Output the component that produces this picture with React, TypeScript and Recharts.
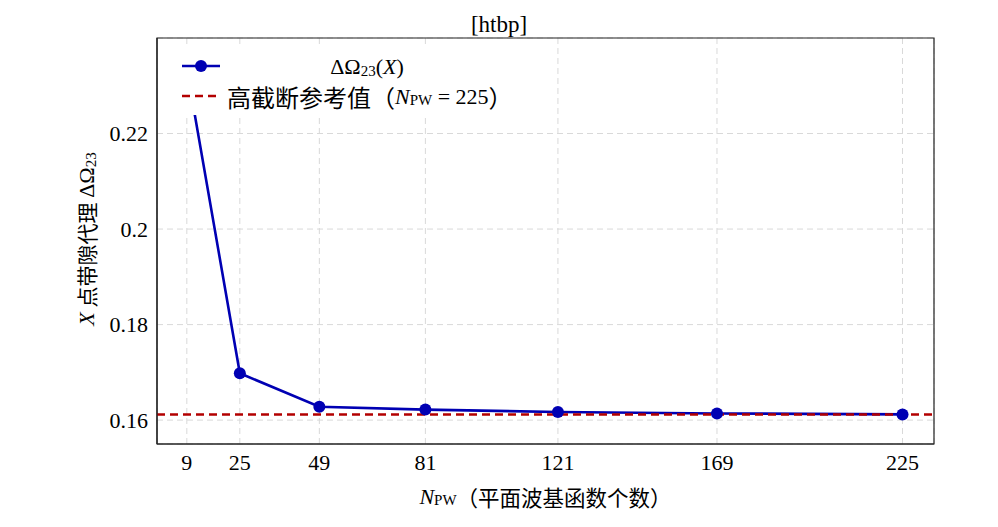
import {
  CartesianGrid,
  Legend,
  Line,
  LineChart,
  ReferenceArea,
  ReferenceLine,
  XAxis,
  YAxis,
} from 'recharts';

// plane-wave basis sizes and the X-point gap proxy
const basisCounts = [9, 25, 49, 81, 121, 169, 225];
const gapProxy = [0.2335, 0.1698, 0.1628, 0.1622, 0.1617, 0.1614, 0.1612];
const referenceGap = 0.1612;
const xTicks = [9, 25, 49, 81, 121, 169, 225];
const yTicks = [0.16, 0.18, 0.2, 0.22];
const xDomain = [0, 234.5];
const yDomain = [0.155, 0.24];

const data = basisCounts.map((n, i) => ({ n, gap: gapProxy[i] }));

const W = 998;
const H = 527;
const BLUE = '#0000b3';
const RED = '#b30000';
const FONT = "'Liberation Serif', 'DejaVu Serif', serif";
const CJK = "'Noto Sans CJK SC', sans-serif";

function YLabel({ viewBox }: any) {
  const cx = 86;
  const cy = viewBox.y + viewBox.height / 2 - 2;
  return (
    <text
      x={cx}
      y={cy}
      transform={`rotate(-90, ${cx}, ${cy})`}
      textAnchor="middle"
      dominantBaseline="central"
      style={{ fontFamily: FONT }}
      fontSize={22}
      fill="#000"
    >
      <tspan fontStyle="italic">X</tspan>
      <tspan style={{ fontFamily: CJK }} fontSize={21}> 点带隙代理 </tspan>
      <tspan>ΔΩ</tspan>
      <tspan dy={5} fontSize={15}>23</tspan>
    </text>
  );
}

function XLabel({ viewBox }: any) {
  const cx = viewBox.x + viewBox.width / 2;
  const cy = 496;
  return (
    <text x={cx} y={cy} textAnchor="middle" dominantBaseline="central" style={{ fontFamily: FONT }} fontSize={22} fill="#000">
      <tspan fontStyle="italic">N</tspan>
      <tspan dy={4} fontSize={15}>PW</tspan>
      <tspan dy={-4} style={{ fontFamily: CJK }} fontSize={21.5}>（平面波基函数个数）</tspan>
    </text>
  );
}

function Title() {
  return (
    <text x={W / 2} y={32} textAnchor="middle" style={{ fontFamily: FONT }} fontSize={23} fill="#000">
      [htbp]
    </text>
  );
}

function LegendBox() {
  return (
    <svg width={350} height={68} style={{ display: 'block' }}>
      <rect width={350} height={68} fill="#fff" />
      <line x1={10} x2={48} y1={19} y2={19} stroke={BLUE} strokeWidth={2.6} />
      <circle cx={29} cy={19} r={6} fill={BLUE} />
      <text x={195} y={19} textAnchor="middle" dominantBaseline="central" style={{ fontFamily: FONT }} fontSize={22}>
        <tspan>ΔΩ</tspan>
        <tspan dy={5} fontSize={15}>23</tspan>
        <tspan dy={-5}>(</tspan>
        <tspan fontStyle="italic">X</tspan>
        <tspan>)</tspan>
      </text>
      <line x1={10} x2={46} y1={49} y2={49} stroke={RED} strokeWidth={2.5} strokeDasharray="8 5" />
      <text x={55} y={49} dominantBaseline="central" style={{ fontFamily: FONT }} fontSize={22}>
        <tspan style={{ fontFamily: CJK }} fontSize={24}>高截断参考值（</tspan>
        <tspan fontStyle="italic">N</tspan>
        <tspan dy={4} fontSize={15}>PW</tspan>
        <tspan dy={-4}> = 225</tspan>
        <tspan style={{ fontFamily: CJK }} fontSize={24}>）</tspan>
      </text>
    </svg>
  );
}

export default function App() {
  return (
    <div style={{ position: 'absolute', left: 0, top: 0, width: W, height: H, background: '#fff' }}>
      <LineChart width={W} height={H} data={data} margin={{ top: 38, right: 64, bottom: 0, left: 0 }}>
        <CartesianGrid stroke="#d9d9d9" strokeDasharray="6 4" strokeWidth={1} />
        <XAxis
          dataKey="n"
          type="number"
          domain={xDomain}
          ticks={xTicks}
          height={83}
          tickLine={false}
          tickSize={0}
          tickMargin={10}
          axisLine={{ stroke: '#222', strokeWidth: 1.2 }}
          tick={{ fill: '#000', fontSize: 22, style: { fontFamily: FONT } }}
          label={<XLabel />}
        />
        <YAxis
          type="number"
          domain={yDomain}
          ticks={yTicks}
          width={157}
          tickLine={false}
          tickSize={0}
          tickMargin={9}
          axisLine={{ stroke: '#222', strokeWidth: 1.2 }}
          tick={{ fill: '#000', fontSize: 22, style: { fontFamily: FONT } }}
          allowDataOverflow
          label={<YLabel />}
        />
        <ReferenceArea
          x1={xDomain[0]}
          x2={xDomain[1]}
          y1={yDomain[0]}
          y2={yDomain[1]}
          fill="none"
          stroke="#222"
          strokeWidth={1.2}
          label={<Title />}
        />
        <Line
          dataKey="gap"
          stroke={BLUE}
          strokeWidth={2.6}
          dot={{ r: 6, fill: BLUE, stroke: BLUE, strokeWidth: 0 }}
          activeDot={false}
          isAnimationActive={false}
        />
        <ReferenceLine y={referenceGap} stroke={RED} strokeWidth={2.5} strokeDasharray="8 5" />
        <Legend
          layout="horizontal"
          align="center"
          verticalAlign="middle"
          content={() => <LegendBox />}
          wrapperStyle={{ left: 172, top: 47, width: 350, height: 68 }}
        />
      </LineChart>
    </div>
  );
}
